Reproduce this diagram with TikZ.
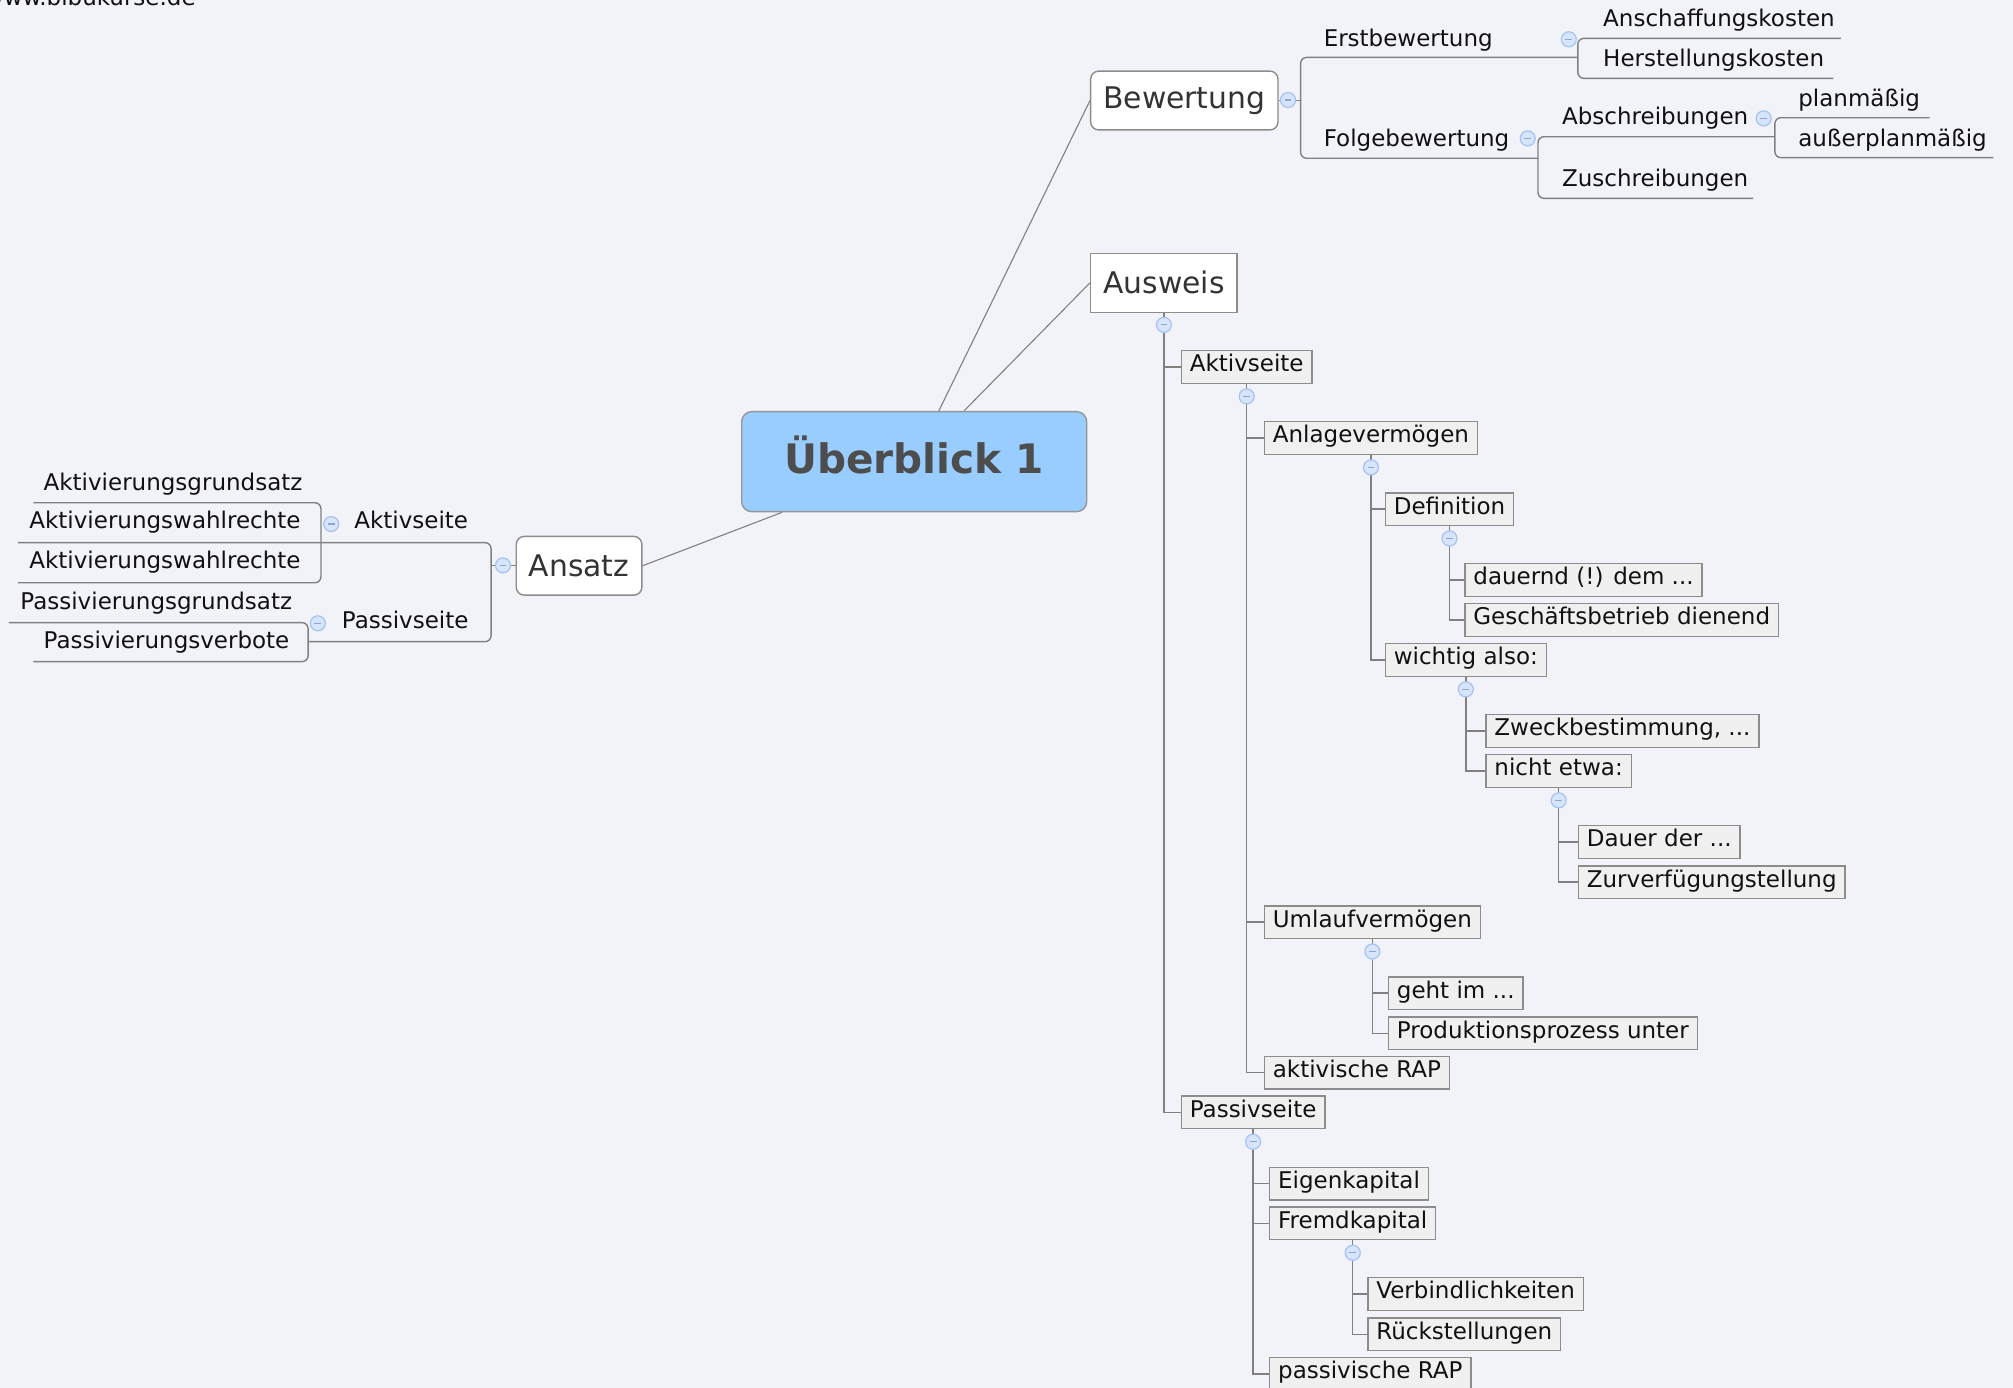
\documentclass[tikz,border=0pt]{standalone}
\usepackage{fontspec}
\setmainfont{DejaVu Sans}
\usetikzlibrary{calc}
\definecolor{bgcol}{RGB}{242,243,248}
\definecolor{boxfill}{RGB}{240,240,240}
\definecolor{boxdraw}{RGB}{140,140,140}
\definecolor{conncol}{RGB}{128,128,128}
\definecolor{cfill}{RGB}{214,228,252}
\definecolor{cdraw}{RGB}{165,195,240}
\definecolor{cminus}{RGB}{140,165,210}
\definecolor{titlefill}{RGB}{153,204,255}
\definecolor{titledraw}{RGB}{150,150,150}
\definecolor{titletext}{RGB}{77,77,77}
\definecolor{bigtext}{RGB}{51,51,51}
\definecolor{txt}{RGB}{17,17,17}
\newcommand\smallf{\fontsize{11.5pt}{13pt}\selectfont}
\newcommand\bigf{\fontsize{14.9pt}{17pt}\selectfont}
\newcommand\titlef{\fontsize{20.3pt}{24pt}\selectfont\bfseries}
\begin{document}
\begin{tikzpicture}[x=0.6419pt,y=-0.6419pt,
  conn/.style={draw=conncol, line width=0.7pt},
  thin conn/.style={draw=conncol, line width=0.55pt},
  branch/.style={draw=conncol, line width=0.7pt, rounded corners=3pt},
  orgbox/.style={draw=boxdraw, fill=boxfill, line width=0.7pt, anchor=west,
    inner xsep=4.2pt, inner ysep=0pt, text height=10.6pt, text depth=5.7pt,
    font=\smallf, text=txt},
  ultext/.style={anchor=base west, inner sep=0pt, font=\smallf, text=txt},
  bigbox/.style={draw=boxdraw, fill=white, line width=0.7pt, anchor=west,
    inner xsep=6.3pt, inner ysep=0pt, minimum height=29.4pt,
    font=\bigf, text=bigtext},
  collapse/.style={circle, draw=cdraw, fill=cfill, line width=0.6pt,
    minimum size=7.5pt, inner sep=0pt,
    path picture={\draw[cminus, line width=0.6pt]
      ([xshift=-1.7pt]path picture bounding box.center) --
      ([xshift=1.7pt]path picture bounding box.center);}}
]
\fill[bgcol] (0,0) rectangle (1568,1081);
\useasboundingbox (0,0) rectangle (1568,1081);

% watermark
\node[ultext] (wm) at (-12,3.9) {www.bibukurse.de};

% central topic
\node[draw=titledraw, fill=titlefill, rounded corners=5pt, line width=0.7pt,
  minimum width=172.5pt, minimum height=50pt, inner sep=0pt, text depth=7.2pt,
  font=\titlef, text=titletext] (title) at (712.1,359.6) {Überblick 1};

% main topics
\node[bigbox, rounded corners=4pt] (bw) at (849,78.3) {Bewertung};
\node[bigbox] (aw) at (849,220.3) {Ausweis};
\node[bigbox, rounded corners=4pt] (an) at (401.6,440.7) {Ansatz};

\draw[thin conn] (title) -- (bw.west);
\draw[thin conn] (title) -- (aw.west);
\draw[thin conn] (title) -- (an.east);

% ---------- Bewertung branch ----------
\node[ultext] (erst) at (1030.8,36.0) {Erstbewertung};
\node[ultext] (folge) at (1030.8,114.3) {Folgebewertung};
\node[ultext] (ansch) at (1248.5,20.6) {Anschaffungskosten};
\node[ultext] (herst) at (1248.5,52.0) {Herstellungskosten};
\node[ultext] (abs) at (1216.5,97.2) {Abschreibungen};
\node[ultext] (zus) at (1216.5,145.3) {Zuschreibungen};
\node[ultext] (plan) at (1400.5,82.9) {planmäßig};
\node[ultext] (ausp) at (1400.5,114.0) {außerplanmäßig};

\coordinate (jb) at (1013.1,78.3);
\coordinate (je) at (1229,44.7);
\coordinate (jf) at (1198,123.3);
\coordinate (ja) at (1382.5,106.5);
\draw[conn] (bw.east) -- (jb);
\draw[branch] (je) -- (jb |- je) -- (jb |- jf) -- (jf);
\draw[branch] (1434,29.9) -- (je |- 0,29.9) -- (je |- 0,61) -- (1428,61);
\draw[branch] (ja) -- (jf |- ja) -- (jf |- 0,154.5) -- (1365.5,154.5);
\draw[branch] (1503,91.7) -- (ja |- 0,91.7) -- (ja |- 0,122.8) -- (1552.6,122.8);

\node[collapse] (cb) at (1003.3,77.9) {};
\node[collapse] (ce) at (1222,30.6) {};
\node[collapse] (cf) at (1190,107.8) {};
\node[collapse] (ca) at (1373.8,92.2) {};

% ---------- Ansatz branch ----------
\node[ultext] (agr) at (33.7,381.7) {Aktivierungsgrundsatz};
\node[ultext] (awr1) at (22.6,412.0) {Aktivierungswahlrechte};
\node[ultext] (awr2) at (22.6,443.2) {Aktivierungswahlrechte};
\node[ultext] (aks2) at (275.7,412.0) {Aktivseite};
\node[ultext] (pgr) at (15.6,474.8) {Passivierungsgrundsatz};
\node[ultext] (pvb) at (33.7,505.2) {Passivierungsverbote};
\node[ultext] (pss2) at (266,489.6) {Passivseite};

\coordinate (jn) at (382.5,440.7);
\coordinate (jak) at (250,422.7);
\coordinate (jpa) at (240,499.8);
\draw[conn] (an.west) -- (jn);
\draw[branch] (14,422.7) -- (jn |- jak) -- (jn |- jpa) -- (jpa);
\draw[branch] (26,391.6) -- (jak |- 0,391.6) -- (jak |- 0,453.9) -- (14,453.9);
\draw[branch] (7,485) -- (jpa |- 0,485) -- (jpa |- 0,515.4) -- (26,515.4);

\node[collapse] (cn) at (391.8,440.4) {};
\node[collapse] (cak) at (258,408.2) {};
\node[collapse] (cpa) at (247.6,485.5) {};

% ---------- Ausweis branch (org chart) ----------
\node[orgbox] (aks) at (919.7,285.9) {Aktivseite};
\node[orgbox] (anl) at (984.4,341.2) {Anlagevermögen};
\node[orgbox] (def) at (1078.6,396.6) {Definition};
\node[orgbox] (dau) at (1140.6,451.8) {dauernd (!) dem ...};
\node[orgbox] (ges) at (1140.6,483.0) {Geschäftsbetrieb dienend};
\node[orgbox] (wic) at (1078.6,514.1) {wichtig also:~};
\node[orgbox] (zwe) at (1157,569.4) {Zweckbestimmung, ...};
\node[orgbox] (nic) at (1157,600.6) {nicht etwa:~};
\node[orgbox] (dad) at (1229,655.9) {Dauer der ...};
\node[orgbox] (zur) at (1229,687.1) {Zurverfügungstellung};
\node[orgbox] (uml) at (984.4,718.3) {Umlaufvermögen};
\node[orgbox] (geh) at (1081,773.6) {geht im ...};
\node[orgbox] (pro) at (1081,804.8) {Produktionsprozess unter};
\node[orgbox] (akr) at (984.4,835.6) {aktivische RAP};
\node[orgbox] (ps) at (919.7,866.5) {Passivseite};
\node[orgbox] (eig) at (988.5,922) {Eigenkapital};
\node[orgbox] (fre) at (988.5,953) {Fremdkapital};
\node[orgbox] (ver) at (1065,1008) {Verbindlichkeiten};
\node[orgbox] (rue) at (1065,1039.3) {Rückstellungen};
\node[orgbox] (pra) at (988.5,1070.3) {passivische RAP};

\coordinate (k0) at ($(aw.south)+(0,9.3)$);
\coordinate (k1) at ($(aks.south)+(0,9.6)$);
\coordinate (k2) at ($(anl.south)+(0,9.6)$);
\coordinate (k3) at ($(def.south)+(0,9.6)$);
\coordinate (k4) at ($(wic.south)+(0,9.6)$);
\coordinate (k5) at ($(nic.south)+(0,9.6)$);
\coordinate (k6) at ($(uml.south)+(0,9.6)$);
\coordinate (k7) at ($(ps.south)+(0,9.6)$);
\coordinate (k8) at ($(fre.south)+(0,9.6)$);

\draw[conn] (aw.south) -- (k0) -- (k0 |- ps.west) -- (ps.west);
\draw[conn] (k0 |- aks.west) -- (aks.west);

\draw[conn] (aks.south) -- (k1) -- (k1 |- akr.west) -- (akr.west);
\draw[conn] (k1 |- anl.west) -- (anl.west);
\draw[conn] (k1 |- uml.west) -- (uml.west);

\draw[conn] (anl.south) -- (k2) -- (k2 |- wic.west) -- (wic.west);
\draw[conn] (k2 |- def.west) -- (def.west);

\draw[conn] (def.south) -- (k3) -- (k3 |- ges.west) -- (ges.west);
\draw[conn] (k3 |- dau.west) -- (dau.west);

\draw[conn] (wic.south) -- (k4) -- (k4 |- nic.west) -- (nic.west);
\draw[conn] (k4 |- zwe.west) -- (zwe.west);

\draw[conn] (nic.south) -- (k5) -- (k5 |- zur.west) -- (zur.west);
\draw[conn] (k5 |- dad.west) -- (dad.west);

\draw[conn] (uml.south) -- (k6) -- (k6 |- pro.west) -- (pro.west);
\draw[conn] (k6 |- geh.west) -- (geh.west);

\draw[conn] (ps.south) -- (k7) -- (k7 |- pra.west) -- (pra.west);
\draw[conn] (k7 |- eig.west) -- (eig.west);
\draw[conn] (k7 |- fre.west) -- (fre.west);

\draw[conn] (fre.south) -- (k8) -- (k8 |- rue.west) -- (rue.west);
\draw[conn] (k8 |- ver.west) -- (ver.west);

\node[collapse] (c0) at (k0) {};
\node[collapse] (c1) at (k1) {};
\node[collapse] (c2) at (k2) {};
\node[collapse] (c3) at (k3) {};
\node[collapse] (c4) at (k4) {};
\node[collapse] (c5) at (k5) {};
\node[collapse] (c6) at (k6) {};
\node[collapse] (c7) at (k7) {};
\node[collapse] (c8) at (k8) {};
\end{tikzpicture}
\end{document}
